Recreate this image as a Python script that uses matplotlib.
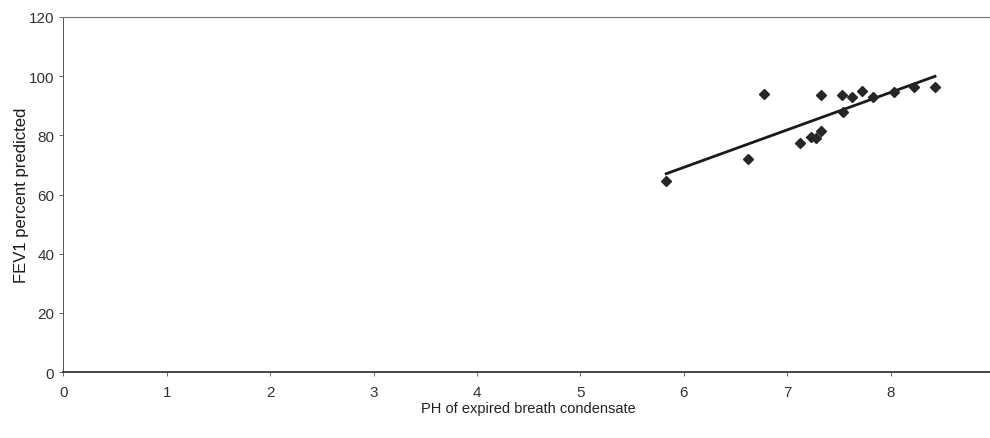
import numpy as np
import matplotlib.pyplot as plt

# pH of expired breath condensate vs FEV1 % predicted
ph = [5.83, 6.62, 6.78, 7.12, 7.23, 7.28, 7.33, 7.33, 7.53, 7.54, 7.63,
      7.72, 7.83, 8.03, 8.23, 8.43]
fev1 = [64.5, 72, 94, 77.5, 79.5, 79, 81.5, 93.5, 93.5, 88, 93,
        95, 93, 94.5, 96.5, 96.5]

xticks = list(range(0, 9))
yticks = list(range(0, 121, 20))

plt.rcParams.update({
    "font.family": ["Liberation Sans", "DejaVu Sans"],
    "font.size": 9,
})

fig = plt.figure(figsize=(9.9, 4.39), dpi=100)
ax = fig.add_axes([0.064, 0.150, 0.94, 0.809])

ax.plot(ph, fev1, linestyle="none", marker="D", markersize=5.5,
        color="#262626", zorder=3)

# least squares trend line over the data range
slope, icpt = np.polyfit(ph, fev1, 1)
xl = np.array([min(ph), max(ph)])
ax.plot(xl, slope * xl + icpt, color="#1a1a1a", linewidth=2, zorder=2)

ax.set_xlim(0, 9)
ax.set_ylim(0, 120)
ax.set_xticks(xticks)
ax.set_yticks(yticks)
ax.tick_params(axis="both", length=3, width=0.6, color="#555555",
               labelcolor="#333333", labelsize=11)
ax.tick_params(axis="x", pad=6)

ax.spines["right"].set_visible(False)
ax.spines["top"].set_color("#777777")
ax.spines["top"].set_linewidth(0.8)
ax.spines["top"].set_linestyle((0, (2, 1)))
ax.spines["left"].set_color("#555555")
ax.spines["left"].set_linewidth(0.7)
ax.spines["bottom"].set_color("#202838")
ax.spines["bottom"].set_linewidth(1.2)

ax.set_xlabel("PH of expired breath condensate", fontsize=10.5,
              color="#222222", labelpad=2)
ax.set_ylabel("FEV1 percent predicted", fontsize=12, color="#1a1a1a",
              fontweight="medium", labelpad=0)

fig.savefig("out.png", dpi=100)
